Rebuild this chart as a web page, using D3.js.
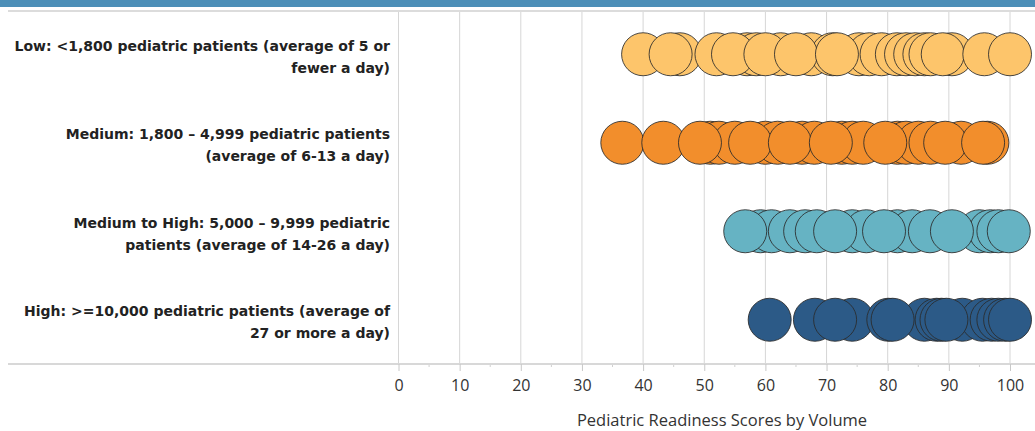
<!DOCTYPE html>
<html><head><meta charset="utf-8">
<script src="https://cdn.jsdelivr.net/npm/d3@7"></script>
<style>body{margin:0;background:#fff;}svg{display:block;}</style>
</head><body>
<script>
const categories = [
  ["Low: <1,800 pediatric patients (average of 5 or", "fewer a day)"],
  ["Medium: 1,800 \u2013 4,999 pediatric patients", "(average of 6-13 a day)"],
  ["Medium to High: 5,000 \u2013 9,999 pediatric", "patients (average of 14-26 a day)"],
  ["High: >=10,000 pediatric patients (average of", "27 or more a day)"]
];
// drawing order: circles later in each list are drawn on top
const lowScores = [46, 52, 57, 58.5, 62.5, 67.5, 71, 75.3, 77, 79, 81.5, 83, 84.5, 86, 87, 90.5, 40, 44.5, 54.7, 60, 65, 71.7, 89, 95.8, 100];
const mediumScores = [51, 52.4, 55, 60, 62, 66, 68, 72.5, 74.2, 76, 81.6, 83, 85, 87, 92, 96.3, 36.6, 43.3, 49.3, 57.5, 64, 70.7, 79.6, 89.4, 95.6];
const medHighScores = [59.2, 61, 64, 66.5, 68.4, 74.2, 76.5, 81.6, 84, 86.9, 95, 96.8, 98.1, 56.7, 71.4, 79.4, 90.5, 99.8];
const highScores = [68.1, 74.2, 80.1, 86, 88, 88.8, 92.2, 95.5, 97, 98.1, 99.2, 60.7, 71.4, 80.8, 89.6, 100];
const seriesColors = ["#FDC56B", "#F28E2C", "#66B3C3", "#2C5A87"];
const xTicks = [0, 10, 20, 30, 40, 50, 60, 70, 80, 90, 100];
const axisTitle = "Pediatric Readiness Scores by Volume";

const series = [lowScores, mediumScores, medHighScores, highScores];
const W = 1035, H = 431;
const svg = d3.select("body").append("svg").attr("width", W).attr("height", H);

const plotTop = 10, plotBottom = 364;
const x = d3.scaleLinear().domain([0, 100]).range([398.5, 1010]);
const y = d3.scaleBand().domain(d3.range(4)).range([plotTop, plotBottom]);

// top banner
svg.append("rect").attr("x", 0).attr("y", 0).attr("width", W).attr("height", 7).attr("fill", "#4D8FB8");
svg.append("line").attr("x1", 8).attr("x2", W).attr("y1", 11).attr("y2", 11)
  .attr("stroke", "#dcdcdc").attr("stroke-width", 2);

// gridlines
svg.append("g").selectAll("line").data(xTicks).join("line")
  .attr("x1", d => x(d)).attr("x2", d => x(d))
  .attr("y1", 12).attr("y2", plotBottom)
  .attr("stroke", "#d6d6d6").attr("stroke-width", 1);

// axis line
svg.append("line").attr("x1", 8).attr("x2", W).attr("y1", plotBottom).attr("y2", plotBottom)
  .attr("stroke", "#d8d8d8").attr("stroke-width", 2);

// axis
const axis = d3.axisBottom(x).tickValues(xTicks).tickSize(7).tickPadding(9).tickFormat(d3.format("d"));
const ag = svg.append("g").attr("transform", `translate(0,${plotBottom})`).call(axis);
ag.select(".domain").remove();
ag.selectAll(".tick line").attr("stroke", "#c8c8c8");
ag.selectAll(".tick text").attr("fill", "#333").style("font-family", "Open Sans, sans-serif").style("font-size", "16px");
// minor ticks
svg.append("g").selectAll("line").data(d3.range(5, 100, 10)).join("line")
  .attr("x1", d => x(d)).attr("x2", d => x(d))
  .attr("y1", plotBottom + 1).attr("y2", plotBottom + 3)
  .attr("stroke", "#d0d0d0");

svg.append("text").attr("x", 722).attr("y", 426).attr("text-anchor", "middle")
  .attr("fill", "#333").style("font-family", "Open Sans, sans-serif").style("font-size", "16.5px")
  .text(axisTitle);

// category labels
categories.forEach((lines, i) => {
  const cy = y(i) + y.bandwidth() / 2;
  const t = svg.append("text").attr("text-anchor", "end")
    .attr("fill", "#222").style("font-family", "DejaVu Sans, sans-serif")
    .style("font-size", "14px").style("font-weight", "bold");
  t.append("tspan").attr("x", 390).attr("y", cy - 3.5).text(lines[0]);
  t.append("tspan").attr("x", 390).attr("y", cy + 18.5).text(lines[1]);
});

// circles
series.forEach((vals, i) => {
  const cy = y(i) + y.bandwidth() / 2;
  svg.append("g").selectAll("circle").data(vals).join("circle")
    .attr("cx", d => x(d)).attr("cy", cy).attr("r", 21.5)
    .attr("fill", seriesColors[i]).attr("stroke", "#2a2a2a").attr("stroke-opacity", 0.85).attr("stroke-width", 1);
});
</script>
</body></html>
